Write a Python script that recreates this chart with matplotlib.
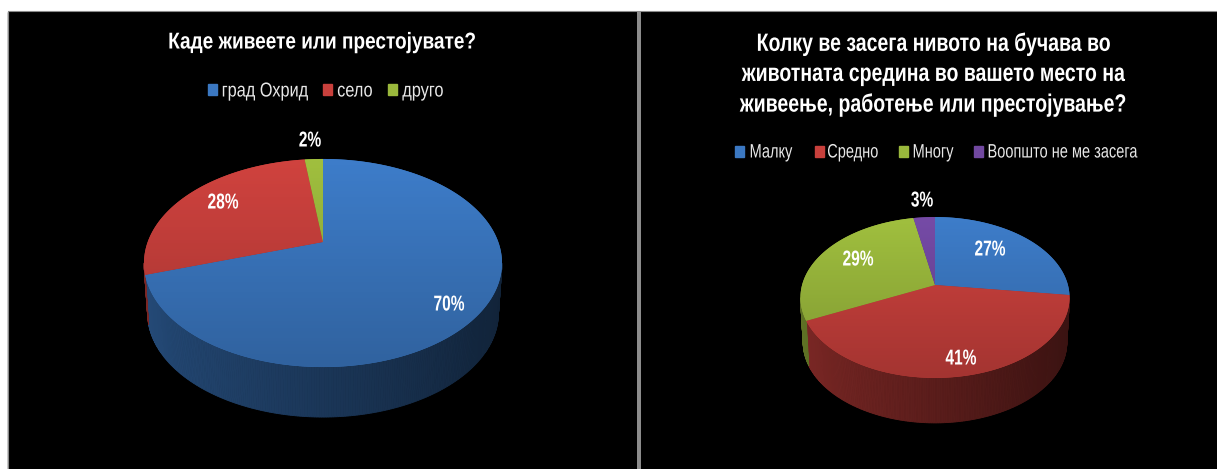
import numpy as np
import matplotlib
matplotlib.use("Agg")
import matplotlib.pyplot as plt
import matplotlib.patheffects as pe
from matplotlib.colors import LinearSegmentedColormap, to_rgb
from matplotlib.patches import Rectangle
from matplotlib.transforms import Affine2D

plt.rcParams['font.family'] = ['Liberation Sans', 'DejaVu Sans']

left_title = "Каде живеете или престојувате?"
left_cats = ["град Охрид", "село", "друго"]
left_vals = [70, 28, 2]
right_title = "Колку ве засега нивото на бучава во\nживотната средина во вашето место на\nживеење, работење или престојување?"
right_cats = ["Малку", "Средно", "Многу", "Воопшто не ме засега"]
right_vals = [27, 41, 29, 3]

BLUE = "#3b78c2"; RED = "#c8403c"; GREEN = "#9ab83c"; PURPLE = "#7148a0"
left_cols = [BLUE, RED, GREEN]
right_cols = [BLUE, RED, GREEN, PURPLE]

W, H = 1217, 469
fig = plt.figure(figsize=(W/100, H/100), dpi=100, facecolor="white")
ax = fig.add_axes([0, 0, 1, 1])
ax.set_axis_off()


class Squeeze(pe.AbstractPathEffect):
    """Condense each text line horizontally about its own centre."""
    def __init__(self, sx):
        super().__init__()
        self.sx = sx

    def draw_path(self, renderer, gc, tpath, affine, rgbFace=None):
        ext = tpath.get_extents()
        cx = (ext.x0 + ext.x1)/2
        t = Affine2D().translate(-cx, 0).scale(self.sx, 1).translate(cx, 0)
        renderer.draw_path(gc, tpath, t + affine, rgbFace)


def label(x, y, s, fs, sx, color="white", weight="normal", **kw):
    ax.text(x, y, s, color=color, fontsize=fs, fontweight=weight, ha="center",
            va="center", zorder=6, path_effects=[Squeeze(sx)], **kw)


def shade(c, f):
    return tuple(min(1, v*f) for v in to_rgb(c))


def project(theta, r, geo):
    cx, cy, a, b, k = geo
    x = r*np.sin(theta); y = r*np.cos(theta)
    d = 1 + k*y
    return cx + a*x/d, cy - b*y/d


def draw_pie(vals, cols, geo, depth, label_pos):
    fr = np.cumsum([0] + list(vals))/sum(vals)*2*np.pi
    k = geo[4]
    for i in range(len(vals)):
        t = np.linspace(fr[i], fr[i+1], max(3, int((fr[i+1]-fr[i])*90)))
        for t0, t1 in zip(t[:-1], t[1:]):
            tm = (t0+t1)/2
            if np.cos(tm) > -k:
                continue
            x0, y0 = project(np.array([t0, t1]), 1, geo)
            xb = geo[0] + (x0-geo[0])*0.98
            f = 0.62 - 0.24*(np.sin(tm)+1)/2*1.4
            ax.fill([x0[0], x0[1], xb[1], xb[0]],
                    [y0[0], y0[1], y0[1]+depth, y0[0]+depth],
                    color=shade(cols[i], f), lw=0.6, zorder=3)
    for i in range(len(vals)):
        t = np.linspace(fr[i], fr[i+1], 200)
        xs, ys = project(t, 1, geo)
        xs = np.r_[geo[0], xs]; ys = np.r_[geo[1], ys]
        poly, = ax.fill(xs, ys, color=cols[i], lw=0, zorder=4)
        c0 = shade(cols[i], 1.04); c1 = shade(cols[i], 0.82)
        cm = LinearSegmentedColormap.from_list("g", [c0, c1])
        top = geo[1]-geo[3]/(1+k); bot = geo[1]+geo[3]/(1-k)
        im = ax.imshow(np.linspace(0, 1, 64)[:, None], cmap=cm, aspect="auto",
                       extent=(geo[0]-200, geo[0]+200, bot, top), zorder=5)
        im.set_clip_path(poly)
    for v, (x, y) in zip(vals, label_pos):
        label(x, y, f"{v}%", 15.5, 0.72, weight="bold")


def legend(cats, cols, sw_x, txt_x, y, fs, sx):
    for c, col, xs, xt in zip(cats, cols, sw_x, txt_x):
        ax.add_patch(Rectangle((xs, y-7), 9, 11, color=col, zorder=6))
        label(xt, y, c, fs, sx, color="#e8e8e8")


# panels
ax.add_patch(Rectangle((8, 12), 1209, 457, color="black", zorder=1))
ax.plot([8, 1217], [11.5, 11.5], color="#8a8a8a", lw=0.8, zorder=2)
ax.plot([8, 8], [12, 469], color="#8a8a8a", lw=0.8, zorder=2)
ax.add_patch(Rectangle((636.5, 12), 4, 457, color="#8c8c8c", lw=0, zorder=2))

label(322, 42, left_title, 16.5, 0.83, weight="bold")
legend(left_cats, left_cols, [208, 323, 388], [265, 355, 423], 91, 14.5, 0.81)
draw_pie(left_vals, left_cols, (323, 242, 175.3, 99.8, 0.202), 50,
         [(449, 305), (223, 203), (310, 141)])

label(934, 74, right_title, 18, 0.78, weight="bold", linespacing=1.32)
legend(right_cats, right_cols, [735, 815, 899, 974], [771, 853, 933, 1063], 153, 14, 0.75)
draw_pie(right_vals, right_cols, (935, 285, 132.9, 78.5, 0.155), 45,
         [(990, 250), (961, 359), (858, 260), (922, 201)])

ax.set_xlim(0, W)
ax.set_ylim(H, 0)
fig.savefig("out.png", dpi=100, facecolor="white")
